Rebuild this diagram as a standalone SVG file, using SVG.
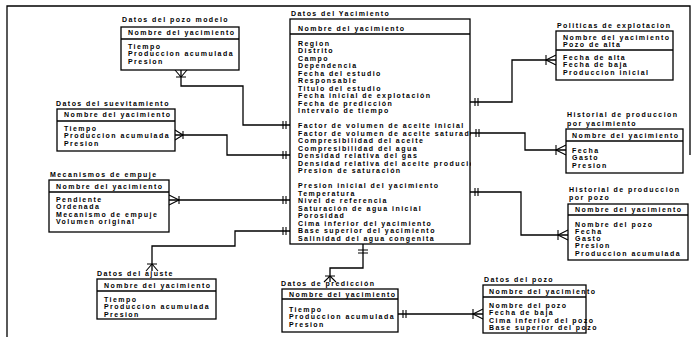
<svg xmlns="http://www.w3.org/2000/svg" width="695" height="341" viewBox="0 0 695 341">
<style>
text{font-family:"Liberation Sans",Arial,sans-serif;font-size:7px;font-weight:bold;letter-spacing:1.45px;fill:#000}
.box{fill:#fff;stroke:#000;stroke-width:1.3}
.ln{fill:none;stroke:#000;stroke-width:1.3}
.mk{fill:none;stroke:#000;stroke-width:1.1}
</style>
<defs>
<clipPath id="clipE"><rect x="290" y="19" width="181" height="226"/></clipPath>
</defs>
<rect width="695" height="341" fill="#fff"/>
<path class="ln" d="M7,337 V6 H690 V155"/>

<g id="connectors">
<!-- A to E -->
<path class="ln" d="M181,70 V86 H243 V125 H290"/>
<path class="mk" d="M175,70 L181,77 L187,70 M176,77 H186 M283,121 V129 M286,121 V129"/>
<!-- B to E -->
<path class="ln" d="M175,135 H227 V155 H290"/>
<path class="mk" d="M175,130 L183,135 L175,140 M183,131 V139 M283,151 V159 M286,151 V159"/>
<!-- C to E -->
<path class="ln" d="M169,200 H290"/>
<path class="mk" d="M169,195 L179,200 L169,205 M179,196 V204 M283,196 V204 M286,196 V204"/>
<!-- D to E -->
<path class="ln" d="M152,271 V246 H235 V231 H290"/>
<path class="mk" d="M146,271 L152,264 L158,271 M147,264 H157 M283,227 V235 M286,227 V235"/>
<!-- P to E -->
<path class="ln" d="M363,244 V268 H330 V282"/>
<path class="mk" d="M358,250 H368 M358,253 H368 M324,282 L330,276 L336,282 M325,276 H335"/>
<!-- F to E -->
<path class="ln" d="M470,102 H512 V60 H556"/>
<path class="mk" d="M475,98 V106 M478,98 V106 M556,55 L546,60 L556,65 M546,55 V65"/>
<!-- G to E -->
<path class="ln" d="M470,133 H525 V150 H566"/>
<path class="mk" d="M476,129 V137 M479,129 V137 M566,145 L556,150 L566,155 M556,145 V155"/>
<!-- H to E -->
<path class="ln" d="M470,192 H521 V235 H568"/>
<path class="mk" d="M475,188 V196 M478,188 V196 M568,230 L558,235 L568,240 M558,230 V240"/>
<!-- P to I -->
<path class="ln" d="M398,314 H483"/>
<path class="mk" d="M403,310 V318 M406,310 V318 M483,309 L473,314 L483,319 M473,309 V319"/>
</g>

<g id="pozo-modelo">
<text x="122" y="22">Datos del pozo modelo</text>
<rect class="box" x="121" y="27" width="118" height="43"/>
<line class="ln" x1="121" y1="39" x2="239" y2="39"/>
<text x="128" y="35">Nombre del yacimiento</text>
<text x="128" y="48.5">Tiempo</text>
<text x="128" y="56">Produccion acumulada</text>
<text x="128" y="63.5">Presion</text>
</g>

<g id="suevitamiento">
<text x="56" y="106">Datos del suevitamiento</text>
<rect class="box" x="57" y="109" width="118" height="42"/>
<line class="ln" x1="57" y1="121" x2="175" y2="121"/>
<text x="64" y="117">Nombre del yacimiento</text>
<text x="64" y="130.5">Tiempo</text>
<text x="64" y="138">Produccion acumulada</text>
<text x="64" y="145.5">Presion</text>
</g>

<g id="mecanismos">
<text x="50" y="177">Mecanismos de empuje</text>
<rect class="box" x="49" y="180" width="120" height="52"/>
<line class="ln" x1="49" y1="192" x2="169" y2="192"/>
<text x="56" y="189">Nombre del yacimiento</text>
<text x="56" y="201.5">Pendiente</text>
<text x="56" y="209">Ordenada</text>
<text x="56" y="216.5">Mecanismo de empuje</text>
<text x="56" y="224">Volumen original</text>
</g>

<g id="ajuste">
<text x="97" y="276">Datos del ajuste</text>
<rect class="box" x="97" y="279" width="119" height="40"/>
<line class="ln" x1="97" y1="291" x2="216" y2="291"/>
<text x="104" y="287.5">Nombre del yacimiento</text>
<text x="104" y="301.5">Tiempo</text>
<text x="104" y="309">Produccion acumulada</text>
<text x="104" y="316.5">Presion</text>
</g>

<g id="yacimiento">
<text x="291" y="16">Datos del Yacimiento</text>
<rect class="box" x="290" y="19" width="180" height="225"/>
<line class="ln" x1="290" y1="34" x2="470" y2="34"/>
<g clip-path="url(#clipE)">
<text x="298" y="30.5">Nombre del yacimiento</text>
<text x="298" y="45.5">Region</text>
<text x="298" y="53">Distrito</text>
<text x="298" y="60.5">Campo</text>
<text x="298" y="68">Dependencia</text>
<text x="298" y="75.5">Fecha del estudio</text>
<text x="298" y="83">Responsable</text>
<text x="298" y="90.5">Titulo del estudio</text>
<text x="298" y="98">Fecha inicial de explotación</text>
<text x="298" y="105.5">Fecha de predicción</text>
<text x="298" y="113">Intervalo de tiempo</text>
<text x="298" y="128">Factor de volumen de aceite inicial</text>
<text x="298" y="135.5">Factor de volumen de aceite saturado</text>
<text x="298" y="143">Compresibilidad del aceite</text>
<text x="298" y="150.5">Compresibilidad del agua</text>
<text x="298" y="158">Densidad relativa del gas</text>
<text x="298" y="165.5">Densidad relativa del aceite producido</text>
<text x="298" y="173">Presion de saturación</text>
<text x="298" y="188">Presion inicial del yacimiento</text>
<text x="298" y="195.5">Temperatura</text>
<text x="298" y="203">Nivel de referencia</text>
<text x="298" y="210.5">Saturación de agua inicial</text>
<text x="298" y="218">Porosidad</text>
<text x="298" y="225.5">Cima inferior del yacimiento</text>
<text x="298" y="233">Base superior del yacimiento</text>
<text x="298" y="240.5">Salinidad del agua congenita</text>
</g>
</g>

<g id="prediccion">
<text x="281" y="286">Datos de predicción</text>
<rect class="box" x="282" y="289" width="116" height="43"/>
<line class="ln" x1="282" y1="299" x2="398" y2="299"/>
<text x="289" y="296.5">Nombre del yacimiento</text>
<text x="289" y="311.5">Tiempo</text>
<text x="289" y="319">Produccion acumulada</text>
<text x="289" y="326.5">Presion</text>
</g>

<g id="politicas">
<text x="557" y="28">Politicas de explotacion</text>
<rect class="box" x="556" y="31" width="117" height="49"/>
<line class="ln" x1="556" y1="50" x2="673" y2="50"/>
<text x="563" y="39.5">Nombre del yacimiento</text>
<text x="563" y="46.5">Pozo de alta</text>
<text x="563" y="59.5">Fecha de alta</text>
<text x="563" y="67">Fecha de baja</text>
<text x="563" y="74.5">Produccion inicial</text>
</g>

<g id="historial-yacimiento">
<text x="567" y="117">Historial de produccion</text>
<text x="567" y="126">por yacimiento</text>
<rect class="box" x="566" y="129" width="117" height="44"/>
<line class="ln" x1="566" y1="141" x2="683" y2="141"/>
<text x="572" y="137.5">Nombre del yacimiento</text>
<text x="572" y="152.5">Fecha</text>
<text x="572" y="160">Gasto</text>
<text x="572" y="167.5">Presion</text>
</g>

<g id="historial-pozo">
<text x="569" y="192">Historial de produccion</text>
<text x="569" y="200">por pozo</text>
<rect class="box" x="568" y="204" width="120" height="56"/>
<line class="ln" x1="568" y1="215" x2="688" y2="215"/>
<text x="575" y="211.5">Nombre del yacimiento</text>
<text x="575" y="226.5">Nombre del pozo</text>
<text x="575" y="233.5">Fecha</text>
<text x="575" y="240.5">Gasto</text>
<text x="575" y="248">Presion</text>
<text x="575" y="255.5">Produccion acumulada</text>
</g>

<g id="pozo">
<text x="484" y="282">Datos del pozo</text>
<rect class="box" x="483" y="285" width="103" height="48"/>
<line class="ln" x1="483" y1="297" x2="586" y2="297"/>
<text x="489" y="293.5">Nombre del yacimiento</text>
<text x="489" y="307.5">Nombre del pozo</text>
<text x="489" y="315">Fecha de baja</text>
<text x="489" y="322.5">Cima inferior del pozo</text>
<text x="489" y="329.5">Base superior del pozo</text>
</g>
</svg>
